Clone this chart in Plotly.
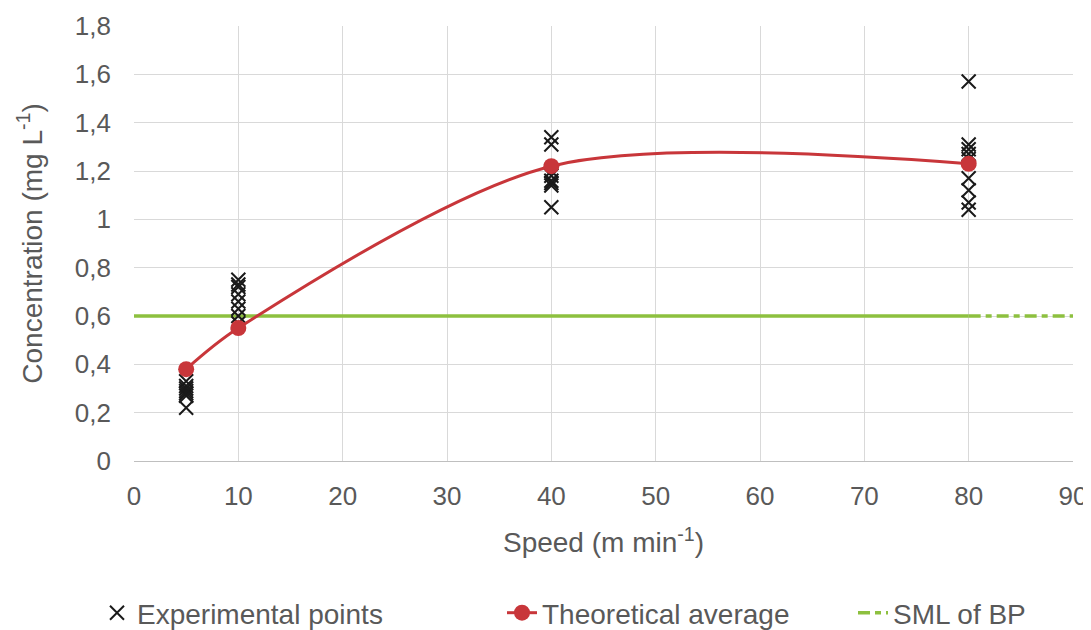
import plotly.graph_objects as go

# Experimental points
exp_x = [5]*7 + [10]*8 + [40]*8 + [80]*9
exp_y = [0.33, 0.31, 0.30, 0.29, 0.28, 0.27, 0.22,
         0.75, 0.73, 0.72, 0.69, 0.66, 0.63, 0.60, 0.57,
         1.34, 1.31, 1.20, 1.18, 1.16, 1.15, 1.14, 1.05,
         1.57, 1.31, 1.29, 1.27, 1.25, 1.17, 1.12, 1.07, 1.04]

# Theoretical average
avg_x = [5, 10, 40, 80]
avg_y = [0.38, 0.55, 1.22, 1.23]

# SML of BP
sml_value = 0.6
sml_solid_x = [0, 80]
sml_dash_x = [80, 90]

x_ticks = [0, 10, 20, 30, 40, 50, 60, 70, 80, 90]
y_ticks = [0, 0.2, 0.4, 0.6, 0.8, 1.0, 1.2, 1.4, 1.6, 1.8]

FONT = "Liberation Sans, Arial, sans-serif"
GRAY = "#595959"
RED = "#C8363A"
GREEN = "#8DC03F"
FS = 26
FS_TITLE = 28
FS_LEG = 28

# page offset (default body margin of the html page)
OFF = 8

fig = go.Figure()

fig.add_trace(go.Scatter(
    x=sml_solid_x, y=[sml_value]*len(sml_solid_x), mode="lines",
    line=dict(color=GREEN, width=3.5), showlegend=False, hoverinfo="skip"))

fig.add_trace(go.Scatter(
    x=exp_x, y=exp_y, mode="markers", name="Experimental points", legend="legend",
    marker=dict(symbol="x-thin", size=14, line=dict(color="#1a1a1a", width=2), color="#1a1a1a")))

fig.add_trace(go.Scatter(
    x=avg_x, y=avg_y, mode="lines+markers", name="Theoretical average", legend="legend2",
    line=dict(color=RED, width=3, shape="spline", smoothing=0.85),
    marker=dict(color=RED, size=16)))

fig.add_trace(go.Scatter(
    x=sml_dash_x, y=[sml_value]*len(sml_dash_x), mode="lines", name="SML of BP", legend="legend3",
    line=dict(color=GREEN, width=3.5, dash="12px,5px,6px,5px")))

def leg(xpx):
    return dict(x=(xpx - 134) / 939, xanchor="left", y=(461 - 613) / 435, yanchor="middle",
                orientation="h", font=dict(size=FS_LEG, color=GRAY, family=FONT),
                bgcolor="rgba(0,0,0,0)", borderwidth=0)

fig.update_layout(
    width=1091 - OFF, height=630 - OFF,
    paper_bgcolor="white", plot_bgcolor="white",
    margin=dict(l=134 - OFF, r=18, t=26 - OFF, b=169, autoexpand=False),
    separators=", ",
    font=dict(family=FONT, size=FS, color=GRAY),
    legend=leg(97),
    legend2=leg(502),
    legend3=leg(853),
    showlegend=True,
)

fig.update_xaxes(
    range=[0, 90], tickvals=x_ticks, showgrid=True, gridcolor="#D9D9D9", gridwidth=1,
    zeroline=False, showline=True, linecolor="#BFBFBF", linewidth=1, automargin=False,
    ticks="", tickfont=dict(size=FS, color=GRAY), ticklabelstandoff=12,
    title=dict(text="Speed (m min<sup>-1</sup>)", font=dict(size=FS_TITLE, color=GRAY), standoff=22),
)
fig.update_yaxes(
    range=[0, 1.8], tickvals=y_ticks, showgrid=True, gridcolor="#D9D9D9", gridwidth=1,
    zeroline=False, showline=False, automargin=False, ticks="", tickfont=dict(size=FS, color=GRAY),
    ticklabelstandoff=22,
    title=dict(text="Concentration (mg L<sup>-1</sup>)", font=dict(size=FS_TITLE, color=GRAY), standoff=24),
)

fig.write_html("out.html")
